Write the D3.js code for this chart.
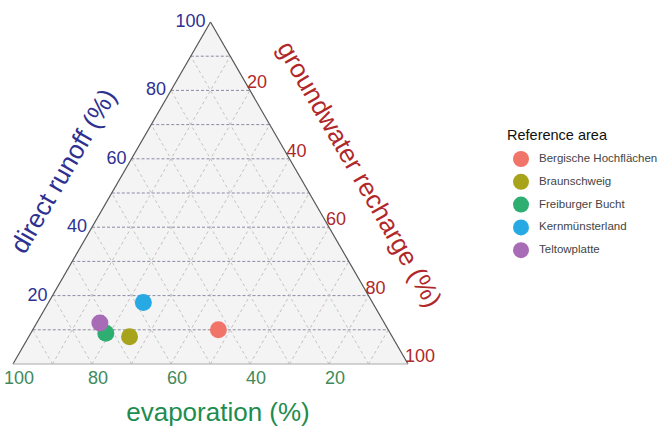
<!DOCTYPE html>
<html>
<head>
<meta charset="utf-8">
<script src="https://cdn.jsdelivr.net/npm/d3@7"></script>
<style>
  body { margin: 0; background: #fff; }
  text { font-family: "Liberation Sans", Arial, sans-serif; }
</style>
</head>
<body>
<svg id="tern" width="659" height="427"></svg>
<script>
// data (percent)
let areas = ["Bergische Hochflächen", "Braunschweig", "Freiburger Bucht", "Kernmünsterland", "Teltowplatte"];
let runoff = [10, 8, 9, 18, 12];
let recharge = [47, 25.5, 19, 24, 16];
let evaporation = [43, 66.5, 72, 58, 72];
let areaColors = ["#f07467", "#a7a41c", "#2fae72", "#27a9e3", "#a86bb6"];
let ticks = [20, 40, 60, 80, 100];
let gridSteps = [10, 20, 30, 40, 50, 60, 70, 80, 90];

let svg = d3.select("#tern");

let x = d3.scaleLinear().domain([0, 100]).range([13, 408]);
let y = d3.scaleLinear().domain([0, 100]).range([364, 22]);

// ternary -> screen; t = runoff, r = recharge
function pt(t, r) { return [x(r + t / 2), y(t)]; }

let blue = "#2e3192", red = "#b0282a", green = "#1e8c4e";

svg.append("path")
    .attr("d", d3.line()([pt(100, 0), pt(0, 0), pt(0, 100)]) + "Z")
    .style("fill", "#f4f4f4")

let grid = svg.append("g")

// constant runoff
gridSteps.forEach(function(v) {
    let a = pt(v, 0), b = pt(v, 100 - v);
    grid.append("line")
        .attr("x1", a[0]).attr("y1", a[1]).attr("x2", b[0]).attr("y2", b[1])
        .style("stroke", "#8a8aa6").style("stroke-width", 1).style("stroke-dasharray", "3,2")
})
// constant recharge (parallel to left edge)
gridSteps.forEach(function(v) {
    let a = pt(0, v), b = pt(100 - v, v);
    grid.append("line")
        .attr("x1", a[0]).attr("y1", a[1]).attr("x2", b[0]).attr("y2", b[1])
        .style("stroke", "#cbbdbd").style("stroke-width", 1).style("stroke-dasharray", "3,3")
})
// constant evaporation (parallel to right edge)
gridSteps.forEach(function(v) {
    let a = pt(0, 100 - v), b = pt(100 - v, 0);
    grid.append("line")
        .attr("x1", a[0]).attr("y1", a[1]).attr("x2", b[0]).attr("y2", b[1])
        .style("stroke", "#c2c6c2").style("stroke-width", 1).style("stroke-dasharray", "3,3")
})

// edges
function edge(p, q, col) {
    svg.append("line")
        .attr("x1", p[0]).attr("y1", p[1]).attr("x2", q[0]).attr("y2", q[1])
        .style("stroke", col).style("stroke-width", 1.2)
}
edge(pt(0, 0), pt(100, 0), "#555")
edge(pt(100, 0), pt(0, 100), "#555")
edge(pt(0, 0), pt(0, 100), "#aaa")

// tick labels
svg.selectAll("lefttick")
    .data(ticks)
    .join("text")
    .attr("x", function(d) { return pt(d, 0)[0] - 5; })
    .attr("y", function(d) { return pt(d, 0)[1] + 5; })
    .attr("text-anchor", "end")
    .style("font-size", "18px")
    .style("fill", blue)
    .text(function(d) { return d; })

svg.selectAll("righttick")
    .data(ticks)
    .join("text")
    .attr("x", function(d) { return pt(100 - d, d)[0] - 3; })
    .attr("y", function(d) { return pt(100 - d, d)[1] - 2; })
    .attr("text-anchor", "start")
    .style("font-size", "18px")
    .style("fill", red)
    .text(function(d) { return d; })

svg.selectAll("bottomtick")
    .data(ticks)
    .join("text")
    .attr("x", function(d) { return pt(0, 100 - d)[0] + 6; })
    .attr("y", pt(0, 0)[1] + 20)
    .attr("text-anchor", "middle")
    .style("font-size", "18px")
    .style("fill", "#3f8a5c")
    .text(function(d) { return d; })

// axis titles
svg.append("text")
    .attr("transform", "translate(65,172) rotate(-60)")
    .attr("text-anchor", "middle")
    .attr("dominant-baseline", "middle")
    .style("font-size", "26px")
    .style("fill", blue)
    .text("direct runoff (%)")

svg.append("text")
    .attr("transform", "translate(358,175) rotate(60)")
    .attr("text-anchor", "middle")
    .attr("dominant-baseline", "middle")
    .style("font-size", "26px")
    .style("fill", red)
    .text("groundwater recharge (%)")

svg.append("text")
    .attr("x", 218)
    .attr("y", 421)
    .attr("text-anchor", "middle")
    .style("font-size", "26px")
    .style("fill", green)
    .text("evaporation (%)")

// points
svg.selectAll("pts")
    .data(areas)
    .join("circle")
    .attr("cx", function(d, i) { return pt(runoff[i], recharge[i])[0]; })
    .attr("cy", function(d, i) { return pt(runoff[i], recharge[i])[1]; })
    .attr("r", 8.5)
    .style("fill", function(d, i) { return areaColors[i]; })

// legend
let legend = svg.append("g").attr("transform", "translate(507,135)")
legend.append("text")
    .attr("x", 0).attr("y", 5)
    .style("font-size", "14.5px")
    .style("fill", "#111")
    .text("Reference area")

legend.selectAll("dots")
    .data(areas)
    .join("circle")
    .attr("cx", 14)
    .attr("cy", function(d, i) { return 24 + i * 22.8; })
    .attr("r", 8)
    .style("fill", function(d, i) { return areaColors[i]; })

legend.selectAll("labels")
    .data(areas)
    .join("text")
    .attr("x", 32)
    .attr("y", function(d, i) { return 24 + i * 22.8; })
    .attr("dominant-baseline", "middle")
    .style("font-size", "11.5px")
    .style("fill", "#444")
    .text(function(d) { return d; })
</script>
</body>
</html>
